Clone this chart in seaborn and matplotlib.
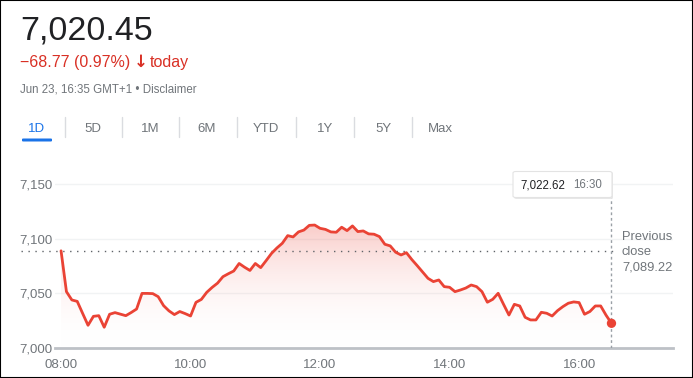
import numpy as np
import pandas as pd
import seaborn as sns
import matplotlib.pyplot as plt
from matplotlib.patches import FancyBboxPatch, Rectangle
from matplotlib.colors import LinearSegmentedColormap

# FTSE 100 intraday, 5 minute steps from 08:00 to 16:30
prices = [
    7089.0, 7051.6, 7044.0, 7042.7, 7031.7, 7020.8, 7029.0, 7029.6, 7019.0, 7030.9,
    7032.4, 7031.0, 7029.6, 7032.5, 7035.7, 7050.0, 7050.0, 7049.8, 7047.0, 7038.8,
    7034.0, 7030.6, 7033.4, 7031.5, 7029.3, 7041.8, 7044.5, 7051.0, 7055.5, 7059.4,
    7065.3, 7068.0, 7070.5, 7077.4, 7074.0, 7071.0, 7077.4, 7073.6, 7080.0, 7086.6,
    7091.6, 7095.9, 7102.9, 7101.7, 7106.3, 7108.0, 7112.3, 7112.6, 7109.6, 7108.6,
    7106.3, 7106.0, 7110.6, 7107.5, 7111.8, 7106.6, 7107.2, 7104.5, 7104.2, 7102.0,
    7095.0, 7093.5, 7087.7, 7085.2, 7087.3, 7081.0, 7075.4, 7069.6, 7063.8, 7060.8,
    7062.3, 7056.2, 7055.6, 7051.6, 7053.1, 7054.9, 7057.7, 7056.2, 7051.6, 7041.9,
    7044.6, 7050.1, 7040.0, 7030.2, 7040.0, 7038.5, 7028.1, 7025.7, 7025.7, 7032.7,
    7031.8, 7029.3, 7034.2, 7037.9, 7041.0, 7042.2, 7041.6, 7030.9, 7033.4, 7038.5,
    7038.5, 7030.0, 7022.62,
]
prev_close = 7089.22
last_price = "7,020.45"
change_text = "\u221268.77 (0.97%)"
stamp_text = "Jun 23, 16:35 GMT+1 \u2022 Disclaimer"
tabs = ["1D", "5D", "1M", "6M", "YTD", "1Y", "5Y", "Max"]
y_ticks = [7000, 7050, 7100, 7150]
x_ticks = ["08:00", "10:00", "12:00", "14:00", "16:00"]

day = "2021-06-23 "
df = pd.DataFrame({
    "time": pd.date_range(day + "08:00", periods=len(prices), freq="5min"),
    "price": prices,
})

RED = "#ea4335"
GREY = "#70757a"
W, H = 693, 378

sns.set_style("white")
plt.rcParams["font.family"] = ["Liberation Sans", "DejaVu Sans"]

fig = plt.figure(figsize=(W / 100, H / 100), dpi=100)


def fx(px):
    return px / W


def fy(py):
    return 1 - py / H


# header
fig.text(fx(20), fy(40), last_price, fontsize=24.5, color="#202124", va="baseline")
fig.text(fx(20), fy(67), change_text, fontsize=11.5, color="#d93025", va="baseline")
fig.text(fx(134), fy(67), "\u2193", fontsize=12, color="#d93025", va="baseline",
         fontweight="bold", family=["DejaVu Sans"])
fig.text(fx(150), fy(67), "today", fontsize=11.5, color="#d93025", va="baseline")
fig.text(fx(20), fy(92.5), stamp_text, fontsize=8.3, color=GREY, va="baseline")

tab_x = [37, 93, 150, 207, 266, 325, 383, 440]
for i, (t, x) in enumerate(zip(tabs, tab_x)):
    fig.text(fx(x), fy(132), t, fontsize=9.5, ha="center", va="baseline",
             color="#1a73e8" if i == 0 else GREY)
    if i < len(tabs) - 1:
        sx = (x + tab_x[i + 1]) / 2
        fig.add_artist(plt.Line2D([fx(sx), fx(sx)], [fy(117), fy(137)],
                                  color="#dadce0", lw=1, transform=fig.transFigure))
fig.add_artist(FancyBboxPatch((fx(22), fy(141.5)), fx(30), 3 / H,
                              boxstyle="round,pad=0,rounding_size=0.002",
                              fc="#1a73e8", ec="none", transform=fig.transFigure))

# chart
ax = fig.add_axes([fx(55), fy(348), fx(673 - 55), (348 - 170) / H])
t0 = df["time"].iloc[0]
ax.set_xlim(t0 - pd.Timedelta(minutes=5.6), t0 + pd.Timedelta(minutes=567))
ax.set_ylim(7000, 7163)

sns.lineplot(data=df, x="time", y="price", color=RED, lw=2, ax=ax, zorder=4)

# gradient fill under the line
poly = ax.fill_between(df["time"], df["price"], 7000, color="none")
cmap = LinearSegmentedColormap.from_list("fade", [(1, 1, 1, 0), (0.92, 0.26, 0.21, 0.28)])
xl = ax.get_xlim()
grad = np.linspace(0, 1, 256).reshape(-1, 1)
img = ax.imshow(grad, cmap=cmap, aspect="auto", origin="lower",
                extent=[xl[0], xl[1], 7000, 7115], zorder=2)
img.set_clip_path(poly.get_paths()[0], transform=ax.transData)
ax.set_xlim(xl)
ax.set_ylim(7000, 7163)

for y in y_ticks[1:]:
    ax.axhline(y, color="#f1f3f4", lw=1, zorder=1)

# previous close line
ax.plot([t0 - pd.Timedelta(minutes=37), df["time"].iloc[-1] + pd.Timedelta(minutes=4)],
        [prev_close, prev_close], ls=(0, (1, 4)), color="#5f6368", lw=1,
        clip_on=False, zorder=3)

# hover marker
last_t = df["time"].iloc[-1]
ax.plot([last_t, last_t], [7000, 7155], ls=(0, (2, 2)), color="#9aa0a6", lw=1, zorder=3)
sns.scatterplot(x=[last_t], y=[df["price"].iloc[-1]], color=RED, s=45,
                edgecolor="none", ax=ax, zorder=5)

ax.set_yticks(y_ticks)
ax.set_yticklabels([f"{v:,}" for v in y_ticks])
ax.set_xticks([pd.Timestamp(day + s) for s in x_ticks])
ax.set_xticklabels(x_ticks)
ax.tick_params(axis="y", length=0, pad=2, labelsize=9.5, labelcolor=GREY)
ax.tick_params(axis="x", length=5, width=1, color="#bdc1c6", pad=3,
               labelsize=9.5, labelcolor=GREY)
ax.set_xlabel("")
ax.set_ylabel("")
for s in ["top", "right", "left"]:
    ax.spines[s].set_visible(False)
ax.spines["bottom"].set_color("#bdc1c6")
ax.spines["bottom"].set_linewidth(2)

# tooltip
fig.add_artist(FancyBboxPatch((fx(514), fy(199)), fx(99), 27 / H,
                              boxstyle="round,pad=0,rounding_size=0.004",
                              fc="#e8e8e8", ec="none", transform=fig.transFigure))
fig.add_artist(FancyBboxPatch((fx(513), fy(197.5)), fx(99), 26 / H,
                              boxstyle="round,pad=0,rounding_size=0.004",
                              fc="white", ec="#e3e3e3", lw=0.8, transform=fig.transFigure))
fig.text(fx(520), fy(188.5), f"{df['price'].iloc[-1]:,.2f}", fontsize=8.3,
         color="#202124", va="baseline")
fig.text(fx(573), fy(188.5), last_t.strftime("%H:%M"), fontsize=8.3,
         color=GREY, va="baseline")

fig.text(fx(622), fy(240), "Previous", fontsize=9.3, color=GREY, va="baseline")
fig.text(fx(622), fy(255), "close", fontsize=9.3, color=GREY, va="baseline")
fig.text(fx(622), fy(270), f"{prev_close:,.2f}", fontsize=9.3, color=GREY, va="baseline")

fig.add_artist(Rectangle((0, 0), 1, 1, fill=False, ec="black", lw=1.5,
                         transform=fig.transFigure))

fig.savefig("out.png", dpi=100, facecolor="white")
